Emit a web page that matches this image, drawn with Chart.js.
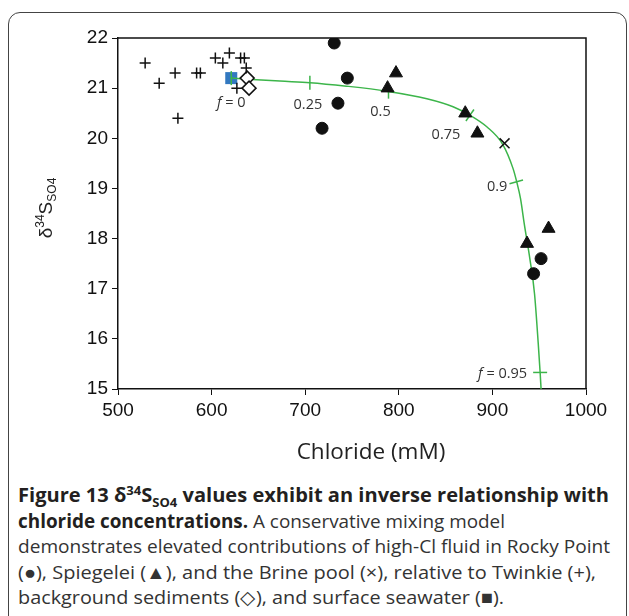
<!DOCTYPE html>
<html>
<head>
<meta charset="utf-8">
<script src="https://cdn.jsdelivr.net/npm/chart.js@4.4.1/dist/chart.umd.min.js"></script>
<style>
  html, body { margin: 0; padding: 0; background: #fff; }
  body { width: 629px; height: 616px; position: relative; overflow: hidden; }
  #frame { position: absolute; left: 8px; top: 12px; width: 619px; height: 640px; border: 1.5px solid #444; border-radius: 12px; box-sizing: border-box; }
  #wrap { position: absolute; left: 0; top: 0; width: 629px; height: 480px; }
  #caption { position: absolute; left: 18px; top: 483px; font-family: 'Open Sans'; font-size: 19px; line-height: 25.5px; color: #333; white-space: nowrap; }
  #caption .ln { display: inline-block; transform-origin: 0 50%; }
  #caption b { color: #231f20; }
  #caption sup, #caption sub { font-size: 0.65em; line-height: 0; }
</style>
</head>
<body>
<div id="frame"></div>
<div id="wrap"><canvas id="chart" width="629" height="480"></canvas></div>
<div id="caption">
  <span class="ln" data-w="591"><b>Figure 13 δ<sup>34</sup>S<sub>SO4</sub> values exhibit an inverse relationship with</b></span><br>
  <span class="ln" data-w="487"><b>chloride concentrations.</b> A conservative mixing model</span><br>
  <span class="ln" data-w="592">demonstrates elevated contributions of high-Cl fluid in Rocky Point</span><br>
  <span class="ln" data-w="578">(●), Spiegelei (▲), and the Brine pool (×), relative to Twinkie (+),</span><br>
  <span class="ln" data-w="486">background sediments (◇), and surface seawater (■).</span>
</div>
<script>
// values (chloride mM, delta34S)
const twinkieX = [529, 544, 561, 584, 588, 564, 604, 612, 619, 631, 635, 637, 627];
const twinkieY = [21.5, 21.1, 21.3, 21.3, 21.3, 20.4, 21.6, 21.5, 21.7, 21.6, 21.6, 21.4, 21.0];
const rockyX = [731, 745, 735, 718, 952, 944];
const rockyY = [21.9, 21.2, 20.7, 20.2, 17.6, 17.3];
const spiegX = [797, 788, 871, 884, 960, 937];
const spiegY = [21.3, 21.0, 20.5, 20.1, 18.2, 17.9];
const brineX = [913];
const brineY = [19.9];
const sedX = [638, 640];
const sedY = [21.2, 21.0];
const seaX = [621];
const seaY = [21.2];

// mixing model curve
const curveX = [621, 673, 705, 744, 787, 830, 858, 876, 894, 911, 922, 926, 930, 934, 940, 945, 949, 951, 952];
const curveY = [21.2, 21.14, 21.11, 21.04, 20.94, 20.79, 20.63, 20.46, 20.23, 19.88, 19.4, 19.13, 18.8, 18.3, 17.6, 16.9, 15.9, 15.33, 15.0];

// f marks along the curve
const fX = [621, 705, 789, 876, 925.5, 951];
const fY = [21.2, 21.11, 20.93, 20.46, 19.13, 15.33];
const fText = ['f = 0', '0.25', '0.5', '0.75', '0.9', 'f = 0.95'];

const xTicks = [500, 600, 700, 800, 900, 1000];
const yTicks = [15, 16, 17, 18, 19, 20, 21, 22];

const pts = (xs, ys) => xs.map((x, i) => ({ x: x, y: ys[i] }));
const GREEN = '#3cb54a';
const INK = '#111';

// stretch caption lines to the widths in the figure
document.querySelectorAll('#caption .ln').forEach(el => {
  const w = el.getBoundingClientRect().width;
  el.style.transform = 'scaleX(' + (parseFloat(el.dataset.w) / w) + ')';
});

const decor = {
  id: 'decor',
  afterDatasetsDraw(chart) {
    const ctx = chart.ctx;
    const a = chart.chartArea;
    const xs = chart.scales.x, ys = chart.scales.y;
    ctx.save();
    // box top + right
    ctx.strokeStyle = INK;
    ctx.lineWidth = 1.5;
    ctx.beginPath();
    ctx.moveTo(a.left, a.top);
    ctx.lineTo(a.right, a.top);
    ctx.lineTo(a.right, a.bottom);
    ctx.stroke();

    // f labels
    const dx = [0, -2, -8, -24, -9, -13];
    const dy = [25, 22, 20, 20, 5, 1];
    const al = ['center', 'center', 'center', 'center', 'right', 'right'];
    ctx.fillStyle = '#333';
    ctx.textBaseline = 'middle';
    fText.forEach((t, i) => {
      const px = xs.getPixelForValue(fX[i]) + dx[i];
      const py = ys.getPixelForValue(fY[i]) + dy[i];
      let head = '', rest = t;
      if (t.startsWith('f')) { head = 'f'; rest = t.slice(1); }
      ctx.font = 'italic 14.5px "Open Sans"';
      const wh = ctx.measureText(head).width;
      ctx.font = '14.5px "Open Sans"';
      const wr = ctx.measureText(rest).width;
      const w = wh + wr;
      let x0 = al[i] === 'center' ? px - w / 2 : px - w;
      ctx.textAlign = 'left';
      if (head) {
        ctx.font = 'italic 14.5px "Open Sans"';
        ctx.fillText(head, x0, py);
      }
      ctx.font = '14.5px "Open Sans"';
      ctx.fillText(rest, x0 + wh, py);
    });

    // x title
    ctx.fillStyle = '#222';
    ctx.font = '22.5px "Open Sans"';
    ctx.textAlign = 'center';
    ctx.textBaseline = 'middle';
    ctx.fillText('Chloride (mM)', 371, 453);

    // y title, rotated: δ34S SO4
    ctx.translate(52, 208);
    ctx.rotate(-Math.PI / 2);
    ctx.textAlign = 'left';
    ctx.textBaseline = 'alphabetic';
    const big = '19px "Liberation Sans"', small = '12px "Liberation Sans"';
    const parts = [['δ', big, 0], ['34', small, -8], ['S', big, 0], ['SO4', small, 4]];
    let tot = 0;
    parts.forEach(p => { ctx.font = p[1]; tot += ctx.measureText(p[0]).width; });
    let cx = -tot / 2;
    parts.forEach(p => {
      ctx.font = p[1];
      ctx.fillText(p[0], cx, p[2]);
      cx += ctx.measureText(p[0]).width;
    });
    ctx.restore();
  }
};

const tickFont = { family: 'Liberation Sans', size: 19 };

new Chart(document.getElementById('chart'), {
  type: 'scatter',
  data: {
    datasets: [
      { label: 'Surface seawater', data: pts(seaX, seaY), pointStyle: 'rect', pointRadius: 8.5,
        backgroundColor: '#3278c0', borderWidth: 0, order: 4 },
      { label: 'Mixing model', data: pts(curveX, curveY), showLine: true, pointRadius: 0,
        borderColor: GREEN, borderWidth: 1.5, cubicInterpolationMode: 'monotone', order: 3 },
      { label: 'f', data: pts(fX, fY), pointStyle: 'line', pointRadius: 7,
        rotation: [90, 90, 90, -55, -15, 0], borderColor: GREEN, borderWidth: 1.5, order: 2 },
      { label: 'Twinkie', data: pts(twinkieX, twinkieY), pointStyle: 'cross', pointRadius: 5.5,
        borderColor: INK, borderWidth: 1.5, order: 1 },
      { label: 'Rocky Point', data: pts(rockyX, rockyY), pointStyle: 'circle', pointRadius: 6,
        backgroundColor: INK, borderColor: INK, borderWidth: 1, order: 1 },
      { label: 'Spiegelei', data: pts(spiegX, spiegY), pointStyle: 'triangle', pointRadius: 7.5,
        backgroundColor: INK, borderColor: INK, borderWidth: 1, order: 1 },
      { label: 'Brine pool', data: pts(brineX, brineY), pointStyle: 'crossRot', pointRadius: 7,
        borderColor: INK, borderWidth: 1.5, order: 1 },
      { label: 'Background sediments', data: pts(sedX, sedY), pointStyle: 'rectRot', pointRadius: 7,
        backgroundColor: '#fff', borderColor: INK, borderWidth: 1.5, order: 1 }
    ]
  },
  options: {
    responsive: false,
    animation: false,
    devicePixelRatio: 1,
    layout: { padding: { left: 0, right: 43, top: 38, bottom: 0 } },
    plugins: { legend: { display: false }, tooltip: { enabled: false } },
    scales: {
      x: {
        type: 'linear', min: 500, max: 1000,
        afterBuildTicks: s => { s.ticks = xTicks.map(v => ({ value: v })); },
        afterFit: s => { s.height = 91; },
        ticks: { font: tickFont, color: INK, padding: 4, autoSkip: false, maxRotation: 0,
          callback: v => String(v) },
        grid: { drawOnChartArea: false, tickLength: 6, color: INK, lineWidth: 1 },
        border: { color: INK, width: 1.5 }
      },
      y: {
        type: 'linear', min: 15, max: 22,
        afterBuildTicks: s => { s.ticks = yTicks.map(v => ({ value: v })); },
        afterFit: s => { s.width = 118; },
        ticks: { font: tickFont, color: INK, padding: 4, autoSkip: false,
          callback: v => String(v) },
        grid: { drawOnChartArea: false, tickLength: 6, color: INK, lineWidth: 1 },
        border: { color: INK, width: 1.5 }
      }
    }
  },
  plugins: [decor]
});
</script>
</body>
</html>
